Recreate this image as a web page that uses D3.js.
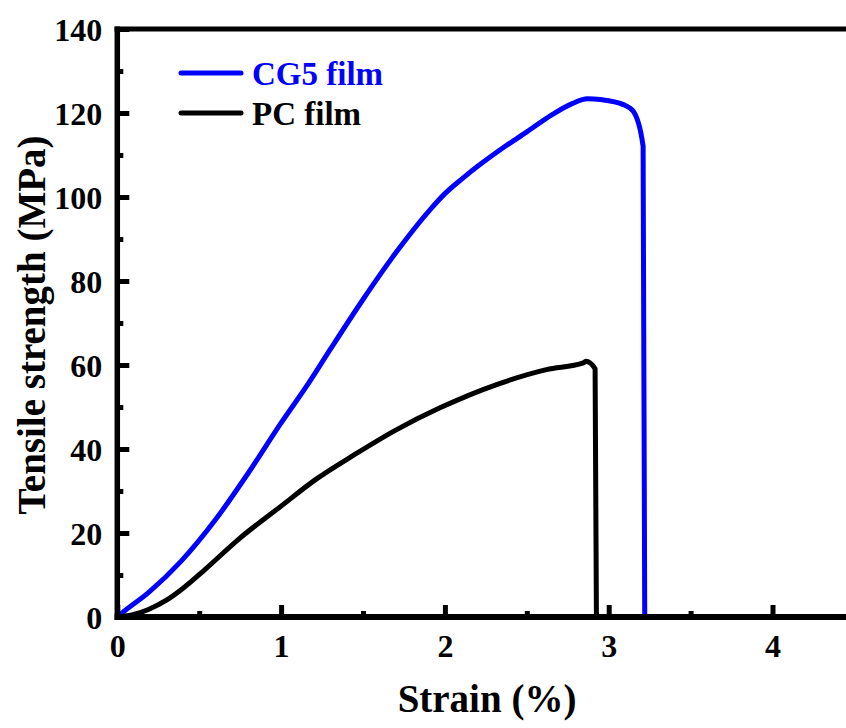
<!DOCTYPE html>
<html lang="en">
<head>
    <meta charset="UTF-8">
    <title>Tensile strength vs strain</title>
    <style>
        body {
          margin: 0;
          background-color: #fff;
        }
        svg {
          display: block;
          font-family: 'Liberation Serif', 'Times New Roman', serif;
          font-weight: bold;
        }
        .tick-label {
          font-size: 32px;
        }
        .axis-title {
          font-size: 39px;
        }
        .legend-label {
          font-size: 33px;
        }
    </style>
</head>
<body>
<svg id="chart" width="846" height="728"></svg>

<script src="https://d3js.org/d3.v7.min.js"></script>
<script>

    // CG5 film curve (strain %, stress MPa)
    const cg5Strain = [0, 0.03, 0.19, 0.39, 0.6, 0.8, 1.0, 1.17, 1.3, 1.5, 1.7, 1.91, 2.0, 2.11, 2.2, 2.34, 2.5, 2.65, 2.78, 2.87, 2.95, 3.09, 3.15, 3.21, 3.22];
    const cg5Stress = [0, 1, 5.8, 13.3, 23.2, 34.3, 46.2, 55.8, 63.7, 75.6, 86.7, 97.0, 100.8, 104.5, 107.3, 111.3, 115.5, 119.5, 122.3, 123.4, 123.2, 122, 120.4, 112.1, 0];

    // PC film curve
    const pcStrain = [0, 0.1, 0.19, 0.3, 0.39, 0.535, 0.74, 1.0, 1.21, 1.45, 1.7, 1.97, 2.32, 2.62, 2.845, 2.86, 2.917, 2.925];
    const pcStress = [0, 0.6, 1.8, 4.0, 6.5, 11.3, 18.5, 26.4, 32.7, 38.7, 44.5, 49.8, 55.4, 58.9, 60.5, 60.9, 59.1, 0];

    const xTicks = [0, 1, 2, 3, 4];
    const xMinorTicks = [0.5, 1.5, 2.5, 3.5];
    const yTicks = [0, 20, 40, 60, 80, 100, 120, 140];
    const yMinorTicks = [10, 30, 50, 70, 90, 110, 130];

    const seriesNames = ["CG5 film", "PC film"];
    const seriesColors = ["#0000ff", "#000000"];

    const svg = d3.select("#chart");

    // plot frame runs off the right edge of the picture
    const x = d3.scaleLinear().domain([0, 4.5]).range([117.3, 854.4]);
    const y = d3.scaleLinear().domain([0, 140]).range([617, 29]);

    const series = [
      cg5Strain.map((s, i) => ({ strain: s, stress: cg5Stress[i] })),
      pcStrain.map((s, i) => ({ strain: s, stress: pcStress[i] }))
    ];

    const line = d3.line()
      .x(d => x(d.strain))
      .y(d => y(d.stress))
      .curve(d3.curveMonotoneX);

    // curves
    svg.selectAll("path.curve")
      .data(series)
      .enter()
      .append("path")
      .attr("class", "curve")
      .attr("d", line)
      .attr("fill", "none")
      .attr("stroke", (d, i) => seriesColors[i])
      .attr("stroke-width", 5)
      .attr("stroke-linejoin", "round");

    // axes (ticks point inward)
    const xAxis = svg.append("g")
      .attr("transform", `translate(0,${y(0)})`)
      .call(d3.axisBottom(x).tickValues(xTicks).tickSize(-12).tickFormat(d3.format("d")));
    svg.append("g")
      .attr("transform", `translate(0,${y(0)})`)
      .call(d3.axisBottom(x).tickValues(xMinorTicks).tickSize(-6).tickFormat(""));

    const yAxis = svg.append("g")
      .attr("transform", `translate(${x(0)},0)`)
      .call(d3.axisLeft(y).tickValues(yTicks).tickSize(-12).tickFormat(d3.format("d")));
    svg.append("g")
      .attr("transform", `translate(${x(0)},0)`)
      .call(d3.axisLeft(y).tickValues(yMinorTicks).tickSize(-6).tickFormat(""));

    svg.selectAll(".domain").remove();
    svg.selectAll(".tick line")
      .attr("stroke", "#000")
      .attr("stroke-width", 5);

    xAxis.selectAll(".tick text")
      .attr("class", "tick-label")
      .attr("y", 40)
      .attr("dy", 0)
      .attr("fill", "#000");
    xAxis.attr("font-family", null).attr("font-size", null);

    yAxis.selectAll(".tick text")
      .attr("class", "tick-label")
      .attr("x", -15)
      .attr("dy", "0.35em")
      .attr("fill", "#000");
    yAxis.attr("font-family", null).attr("font-size", null);

    // frame lines: left, bottom, top
    svg.append("line")
      .attr("x1", x(0)).attr("x2", x(0))
      .attr("y1", y(140) - 2.5).attr("y2", y(0) + 3)
      .attr("stroke", "#000").attr("stroke-width", 5.5);
    svg.append("line")
      .attr("x1", x(0) - 2.75).attr("x2", 846)
      .attr("y1", y(0)).attr("y2", y(0))
      .attr("stroke", "#000").attr("stroke-width", 6);
    svg.append("line")
      .attr("x1", x(0) - 2.75).attr("x2", 846)
      .attr("y1", y(140)).attr("y2", y(140))
      .attr("stroke", "#000").attr("stroke-width", 5);

    // axis titles
    svg.append("text")
      .attr("class", "axis-title")
      .attr("x", 487)
      .attr("y", 712)
      .attr("text-anchor", "middle")
      .text("Strain (%)");

    svg.append("text")
      .attr("class", "axis-title")
      .attr("transform", "translate(45,325) rotate(-90)")
      .attr("text-anchor", "middle")
      .text("Tensile strength (MPa)");

    // legend
    const legend = svg.append("g");
    seriesNames.forEach((name, i) => {
      const ly = 73 + i * 40;
      legend.append("line")
        .attr("x1", 181).attr("x2", 241)
        .attr("y1", ly).attr("y2", ly)
        .attr("stroke", seriesColors[i])
        .attr("stroke-width", 5)
        .attr("stroke-linecap", "round");
      legend.append("text")
        .attr("class", "legend-label")
        .attr("x", 252)
        .attr("y", ly)
        .attr("dy", "0.35em")
        .attr("fill", seriesColors[i])
        .text(name);
    });
</script>
</body>
</html>
